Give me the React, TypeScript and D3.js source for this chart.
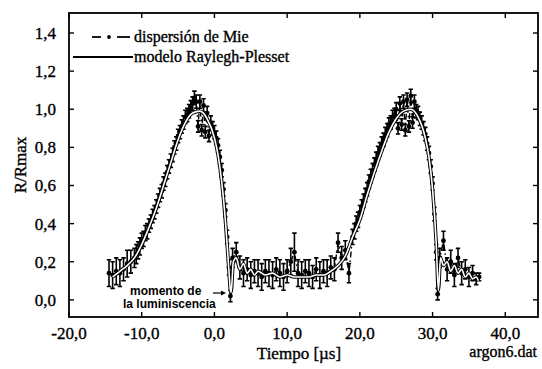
import { useEffect, useRef } from "react";
import * as d3 from "d3";

// measured points (Mie scattering): time [us], R/Rmax, error bar half-height
const mieT = [
  -14.5, -14.0, -13.5, -13.0, -12.5, -12.0, -11.5,
  -11.0, -10.75, -10.5, -10.25, -10.0, -9.75, -9.5, -9.25, -9.0, -8.75, -8.5, -8.25, -8.0, -7.75,
  -7.5, -7.25, -7.0, -6.75, -6.5, -6.25, -6.0, -5.75, -5.5, -5.25, -5.0, -4.75, -4.5, -4.25,
  -4.0, -3.75, -3.5, -3.25, -3.0, -2.75, -2.5, -2.25, -2.0, -1.75, -1.5, -1.25, -1.0, -0.75,
  -0.5, -0.25, 0.0, 0.25, 0.5, 0.75, 1.0, 1.25, 1.5, 1.75, 2.0, 2.2,
  2.5, 3.0, 3.5, 4.0, 4.5, 5.0, 5.5, 6.0, 6.5, 7.0, 7.5, 8.0, 8.5, 9.0, 9.5, 10.0, 10.5,
  11.0, 11.5, 12.0, 12.5, 13.0, 13.5, 14.0, 14.5, 15.0, 15.5, 16.0, 16.5, 17.0, 17.5, 18.0, 18.5,
  19.0, 19.25, 19.5, 19.75, 20.0, 20.25, 20.5, 20.75, 21.0, 21.25, 21.5, 21.75, 22.0, 22.25,
  22.5, 22.75, 23.0, 23.25, 23.5, 23.75, 24.0, 24.25, 24.5, 24.75, 25.0, 25.25, 25.5, 25.75,
  26.0, 26.25, 26.5, 26.75, 27.0, 27.25, 27.5, 27.75, 28.0, 28.25, 28.5, 28.75, 29.0, 29.25,
  29.5, 29.75, 30.0, 30.25, 30.5, 30.7,
  31.0, 31.5, 32.0, 32.5, 33.0, 33.5, 34.0, 34.5, 35.0, 35.5, 36.0, 36.4,
];
const mieR = [
  0.14, 0.13, 0.15, 0.14, 0.16, 0.19, 0.2,
  0.22, 0.24, 0.26, 0.28, 0.31, 0.32, 0.35, 0.36, 0.39, 0.41, 0.44, 0.46, 0.49, 0.52,
  0.55, 0.57, 0.61, 0.63, 0.67, 0.7, 0.73, 0.76, 0.8, 0.82, 0.86, 0.88, 0.91, 0.93,
  0.96, 0.97, 0.99, 1.01, 1.03, 1.06, 1.04, 0.91, 1.04, 0.89, 1.02, 0.88, 0.98, 0.86,
  0.93, 0.9, 0.88, 0.85, 0.81, 0.75, 0.68, 0.58, 0.47, 0.33, 0.17, 0.02,
  0.22, 0.25, 0.17, 0.14, 0.16, 0.13, 0.15, 0.14, 0.12, 0.15, 0.14, 0.13, 0.16, 0.14, 0.12, 0.15, 0.2,
  0.25, 0.14, 0.13, 0.15, 0.14, 0.12, 0.16, 0.13, 0.15, 0.14, 0.17, 0.16, 0.3, 0.22, 0.26, 0.14,
  0.33, 0.36, 0.4, 0.42, 0.46, 0.49, 0.52, 0.55, 0.58, 0.62, 0.65, 0.68, 0.71, 0.74,
  0.77, 0.79, 0.82, 0.84, 0.87, 0.89, 0.92, 0.93, 0.96, 0.97, 1.0, 0.9, 1.03, 0.92,
  1.04, 0.89, 1.05, 0.91, 1.07, 0.93, 1.04, 0.99, 0.98, 0.95, 0.93, 0.9, 0.87, 0.82,
  0.77, 0.7, 0.61, 0.45, 0.25, 0.03,
  0.22, 0.31, 0.16, 0.2, 0.13, 0.22, 0.14, 0.16, 0.12, 0.14, 0.11, 0.12,
];
const mieErr = [
  0.07, 0.07, 0.07, 0.07, 0.06, 0.07, 0.06,
  0.05, 0.05, 0.045, 0.045, 0.04, 0.04, 0.04, 0.04, 0.035, 0.035, 0.035, 0.035, 0.035, 0.035,
  0.035, 0.035, 0.035, 0.035, 0.035, 0.035, 0.035, 0.035, 0.035, 0.035, 0.035, 0.035, 0.035, 0.035,
  0.035, 0.035, 0.035, 0.035, 0.035, 0.035, 0.035, 0.03, 0.035, 0.03, 0.035, 0.03, 0.035, 0.03,
  0.035, 0.035, 0.035, 0.035, 0.035, 0.035, 0.035, 0.035, 0.035, 0.035, 0.04, 0.03,
  0.05, 0.05, 0.06, 0.07, 0.06, 0.07, 0.06, 0.07, 0.07, 0.06, 0.07, 0.07, 0.06, 0.07, 0.07, 0.06, 0.07,
  0.1, 0.07, 0.07, 0.06, 0.07, 0.06, 0.06, 0.07, 0.06, 0.07, 0.06, 0.06, 0.05, 0.06, 0.05, 0.05,
  0.04, 0.04, 0.04, 0.04, 0.035, 0.035, 0.035, 0.035, 0.035, 0.035, 0.035, 0.035, 0.035, 0.035,
  0.035, 0.035, 0.035, 0.035, 0.035, 0.035, 0.035, 0.035, 0.035, 0.035, 0.035, 0.03, 0.035, 0.03,
  0.035, 0.03, 0.035, 0.03, 0.035, 0.03, 0.035, 0.035, 0.035, 0.035, 0.035, 0.035, 0.035, 0.035,
  0.035, 0.035, 0.035, 0.035, 0.04, 0.03,
  0.05, 0.05, 0.06, 0.06, 0.06, 0.05, 0.06, 0.05, 0.05, 0.04, 0.03, 0.02,
];

// Rayleigh-Plesset model curve
const modelT = [
  -14, -13, -12, -11, -10, -9, -8, -7, -6, -5, -4, -3, -2, -1, 0, 0.5, 1, 1.5, 2, 2.2, 2.3,
  2.6, 3, 3.5, 4, 4.5, 5, 5.5, 6, 7, 8, 9, 10, 11, 12, 13, 14, 15, 16, 17, 18, 19, 20, 21,
  22, 23, 24, 25, 26, 27, 28, 29, 29.5, 30, 30.5, 30.8, 31.1, 31.5, 32, 32.5, 33, 33.5, 34,
  34.5, 35, 35.5, 36, 36.3,
];
const modelR = [
  0.12, 0.15, 0.18, 0.22, 0.29, 0.38, 0.48, 0.6, 0.72, 0.84, 0.93, 0.98, 0.99, 0.95, 0.85,
  0.76, 0.62, 0.42, 0.15, 0.05, 0.04, 0.2, 0.22, 0.16, 0.19, 0.14, 0.16, 0.13, 0.15, 0.13,
  0.14, 0.12, 0.13, 0.12, 0.12, 0.12, 0.13, 0.13, 0.15, 0.18, 0.23, 0.33, 0.42, 0.55, 0.67,
  0.78, 0.88, 0.95, 0.99, 1.0, 0.96, 0.85, 0.75, 0.58, 0.3, 0.05, 0.22, 0.18, 0.2, 0.15, 0.18,
  0.14, 0.16, 0.12, 0.14, 0.11, 0.12, 0.1,
];

const xTicks = [-20, -10, 0, 10, 20, 30, 40];
const yTicks = [0, 0.2, 0.4, 0.6, 0.8, 1.0, 1.2, 1.4];

const fmt = (v: number) => v.toFixed(1).replace(".", ",");

export default function App() {
  const svgRef = useRef<SVGSVGElement | null>(null);
  const width = 542;
  const height = 369;

  useEffect(() => {
    const svg = d3.select(svgRef.current);
    svg.selectAll("*").remove();

    const x = d3.scaleLinear().domain([-20, 44.5]).range([69, 538]);
    const y = d3.scaleLinear().domain([-0.09, 1.505]).range([317, 13]);
    const [x0, x1] = x.range();
    const [y0, y1] = y.range();
    const serif = "'Liberation Serif', 'DejaVu Serif', serif";

    const mie = mieT.map((t, i) => ({ t, r: mieR[i], e: mieErr[i] }));
    const model = modelT.map((t, i) => ({ t, r: modelR[i] }));

    const plot = svg.append("g");

    // error bars
    plot
      .selectAll(".err")
      .data(mie)
      .enter()
      .append("path")
      .attr("class", "err")
      .attr("fill", "none")
      .attr("stroke", "#000")
      .attr("stroke-width", 1.6)
      .attr("d", (d) => {
        const cx = x(d.t);
        const ya = y(d.r + d.e);
        const yb = y(d.r - d.e);
        return `M${cx},${ya}V${yb}M${cx - 2.2},${ya}H${cx + 2.2}M${cx - 2.2},${yb}H${cx + 2.2}`;
      });

    // dash-dot line through the points
    const line = d3
      .line<{ t: number; r: number }>()
      .x((d) => x(d.t))
      .y((d) => y(d.r));

    plot
      .append("path")
      .datum(mie)
      .attr("fill", "none")
      .attr("stroke", "#000")
      .attr("stroke-width", 1.4)
      .attr("stroke-dasharray", "6,3,1.5,3")
      .attr("d", line);

    plot
      .selectAll(".dot")
      .data(mie)
      .enter()
      .append("circle")
      .attr("class", "dot")
      .attr("cx", (d) => x(d.t))
      .attr("cy", (d) => y(d.r))
      .attr("r", 2.4)
      .attr("fill", "#000");

    // model curve: white line running inside the black band
    const smooth = d3
      .line<{ t: number; r: number }>()
      .x((d) => x(d.t))
      .y((d) => y(d.r))
      .curve(d3.curveMonotoneX);
    plot
      .append("path")
      .datum(model)
      .attr("fill", "none")
      .attr("stroke", "#000")
      .attr("stroke-width", 3.5)
      .attr("d", smooth);
    plot
      .append("path")
      .datum(model)
      .attr("fill", "none")
      .attr("stroke", "#fff")
      .attr("stroke-width", 1.6)
      .attr("d", smooth);

    // frame
    svg
      .append("rect")
      .attr("x", x0)
      .attr("y", y1)
      .attr("width", x1 - x0)
      .attr("height", y0 - y1)
      .attr("fill", "none")
      .attr("stroke", "#000")
      .attr("stroke-width", 1.8);

    const txt = (sel: d3.Selection<SVGTextElement, unknown, null, undefined>, size: number) =>
      sel
        .attr("font-family", serif)
        .attr("font-size", size)
        .attr("fill", "#000")
        .attr("stroke", "#000")
        .attr("stroke-width", 0.35);

    // inward ticks on all four sides
    const tk = 5;
    xTicks.forEach((v) => {
      svg.append("line").attr("x1", x(v)).attr("x2", x(v)).attr("y1", y0).attr("y2", y0 - tk).attr("stroke", "#000").attr("stroke-width", 1.4);
      svg.append("line").attr("x1", x(v)).attr("x2", x(v)).attr("y1", y1).attr("y2", y1 + tk).attr("stroke", "#000").attr("stroke-width", 1.4);
      txt(svg.append("text"), 17)
        .attr("x", x(v))
        .attr("y", 339)
        .attr("text-anchor", "middle")
        .text(fmt(v));
    });
    yTicks.forEach((v) => {
      svg.append("line").attr("x1", x0).attr("x2", x0 + tk).attr("y1", y(v)).attr("y2", y(v)).attr("stroke", "#000").attr("stroke-width", 1.4);
      svg.append("line").attr("x1", x1).attr("x2", x1 - tk).attr("y1", y(v)).attr("y2", y(v)).attr("stroke", "#000").attr("stroke-width", 1.4);
      txt(svg.append("text"), 17)
        .attr("x", 56)
        .attr("y", y(v))
        .attr("dy", "0.35em")
        .attr("text-anchor", "end")
        .text(fmt(v));
    });

    // axis titles
    txt(svg.append("text"), 17)
      .attr("transform", `translate(26,${(y0 + y1) / 2}) rotate(-90)`)
      .attr("text-anchor", "middle")
      .text("R/Rmax");
    txt(svg.append("text"), 17)
      .attr("x", 299)
      .attr("y", 359)
      .attr("text-anchor", "middle")
      .text("Tiempo [µs]");
    txt(svg.append("text"), 16)
      .attr("x", 537)
      .attr("y", 357)
      .attr("text-anchor", "end")
      .text("argon6.dat");

    // legend
    const lg = svg.append("g");
    lg.append("line").attr("x1", 92).attr("x2", 101).attr("y1", 37).attr("y2", 37).attr("stroke", "#000").attr("stroke-width", 1.8);
    lg.append("circle").attr("cx", 109).attr("cy", 37).attr("r", 1.9).attr("fill", "#000");
    lg.append("line").attr("x1", 117).attr("x2", 130).attr("y1", 37).attr("y2", 37).attr("stroke", "#000").attr("stroke-width", 1.8);
    txt(lg.append("text"), 16).attr("x", 134).attr("y", 42).text("dispersión de Mie");
    lg.append("line").attr("x1", 73).attr("x2", 133).attr("y1", 57).attr("y2", 57).attr("stroke", "#000").attr("stroke-width", 2.2);
    txt(lg.append("text"), 16).attr("x", 134).attr("y", 62).text("modelo Raylegh-Plesset");

    // annotation
    const sans = "'Liberation Sans', Arial, sans-serif";
    svg.append("text").attr("x", 130).attr("y", 295).attr("font-family", sans).attr("font-size", 12).attr("font-weight", "bold").text("momento de");
    svg.append("text").attr("x", 123).attr("y", 308).attr("font-family", sans).attr("font-size", 12).attr("font-weight", "bold").text("la luminiscencia");
    svg.append("line").attr("x1", 213).attr("x2", 223).attr("y1", 293).attr("y2", 293).attr("stroke", "#000").attr("stroke-width", 1.2);
    svg.append("path").attr("d", "M226,293L221,290.5L221,295.5Z").attr("fill", "#000");
  }, []);

  return (
    <svg
      ref={svgRef}
      width={width}
      height={height}
      style={{ position: "absolute", left: 0, top: 0, background: "#fff" }}
    />
  );
}
